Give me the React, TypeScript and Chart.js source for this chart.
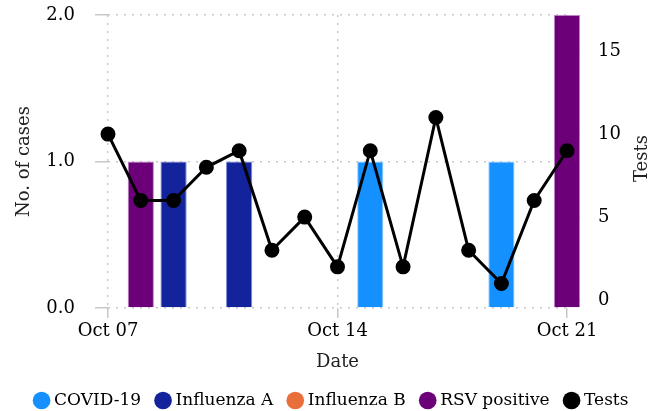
import React, { useEffect, useRef } from "react";
import { Chart, registerables } from "chart.js";

Chart.register(...registerables);

const dates = ["Oct 07","Oct 08","Oct 09","Oct 10","Oct 11","Oct 12","Oct 13","Oct 14","Oct 15","Oct 16","Oct 17","Oct 18","Oct 19","Oct 20","Oct 21"];
const covid = [0,0,0,0,0,0,0,0,1,0,0,0,1,0,0];
const fluA = [0,0,1,0,1,0,0,0,0,0,0,0,0,0,0];
const fluB = [0,0,0,0,0,0,0,0,0,0,0,0,0,0,0];
const rsv = [0,1,0,0,0,0,0,0,0,0,0,0,0,0,2];
const tests = [10,6,6,8,9,3,5,2,9,2,11,3,1,6,9];
const xTickIdx = [0,7,14];
const leftTicks = [0,1,2];
const rightTicks = [0,5,10,15];
const legendOrder = ["COVID-19", "Influenza A", "Influenza B", "RSV positive", "Tests"];

const FONT = "'DejaVu Serif', serif";

const rightTitle = {
  id: "rightTitle",
  afterDraw(chart: any) {
    const ctx = chart.ctx;
    const a = chart.chartArea;
    ctx.save();
    ctx.translate(642, (a.top + a.bottom) / 2 - 3);
    ctx.rotate(-Math.PI / 2);
    ctx.fillStyle = "#222";
    ctx.font = `18px ${FONT}`;
    ctx.textAlign = "center";
    ctx.textBaseline = "middle";
    ctx.fillText("Tests", 0, 0);
    ctx.restore();
  },
};

export default function App() {
  const ref = useRef<HTMLCanvasElement>(null);
  useEffect(() => {
    document.body.style.margin = "0";
    const grid = { color: "#c8c8c8", lineWidth: 1.5, tickLength: 13, offset: false } as any;
    const border = { display: false, dash: [2, 6] } as any;
    const chart = new Chart(ref.current!, {
      type: "bar",
      plugins: [rightTitle],
      data: {
        labels: dates,
        datasets: [
          { type: "line", label: "Tests", data: tests, yAxisID: "y1", borderColor: "#000", backgroundColor: "#000", borderWidth: 3, pointRadius: 6, pointBackgroundColor: "#000", order: 0 } as any,
          { label: "COVID-19", data: covid, backgroundColor: "#1590ff", borderColor: "rgba(120,190,255,0.8)", borderWidth: 1, yAxisID: "y", order: 1, clip: false },
          { label: "Influenza A", data: fluA, backgroundColor: "#12239b", borderColor: "rgba(90,110,200,0.8)", borderWidth: 1, yAxisID: "y", order: 1, clip: false },
          { label: "Influenza B", data: fluB, backgroundColor: "#e86f3a", borderColor: "#e86f3a", borderWidth: 1, yAxisID: "y", order: 1, clip: false },
          { label: "RSV positive", data: rsv, backgroundColor: "#6b0079", borderColor: "rgba(170,100,180,0.8)", borderWidth: 1, yAxisID: "y", order: 1, clip: false },
        ],
      },
      options: {
        animation: false,
        responsive: false,
        maintainAspectRatio: false,
        layout: { padding: { left: 15, right: 0, top: 15, bottom: -8 }, autoPadding: false } as any,
        datasets: { bar: { categoryPercentage: 0.8, barPercentage: 1 } },
        plugins: {
          tooltip: { enabled: false },
          legend: {
            position: "bottom",
            align: "center",
            labels: {
              usePointStyle: true,
              pointStyle: "circle",
              boxWidth: 8,
              boxHeight: 12.5,
              padding: 18,
              color: "#000",
              font: { family: FONT, size: 17 },
              generateLabels: (c: any) => {
                const items = Chart.defaults.plugins.legend.labels.generateLabels(c);
                items.forEach((it: any) => { it.lineWidth = 0; it.strokeStyle = "rgba(0,0,0,0)"; });
                return items.sort((a: any, b: any) => legendOrder.indexOf(a.text) - legendOrder.indexOf(b.text));
              },
            },
          },
        },
        scales: {
          x: {
            stacked: true,
            offset: false,
            grid: { ...grid, tickLength: 10 },
            border,
            afterBuildTicks: (s: any) => { s.ticks = xTickIdx.map((v) => ({ value: v })); },
            afterFit: (s: any) => { s.height = 66; },
            ticks: { autoSkip: false, maxRotation: 0, padding: 3, color: "#000", font: { family: FONT, size: 18 }, callback: (v: any) => dates[v] },
            title: { display: true, text: "Date", color: "#222", font: { family: FONT, size: 18 }, padding: { top: 0, bottom: 1 } },
          },
          y: {
            stacked: true,
            position: "left",
            min: 0,
            max: 2,
            grid: { ...grid },
            border,
            afterBuildTicks: (s: any) => { s.ticks = leftTicks.map((v) => ({ value: v })); },
            afterFit: (s: any) => { s.width = 93; s.paddingTop = 0; s.paddingBottom = 0; },
            ticks: { padding: 20, color: "#000", font: { family: FONT, size: 18 }, callback: (v: any) => Number(v).toFixed(1) },
            title: { display: true, text: "No. of cases", color: "#222", font: { family: FONT, size: 18 }, padding: { top: -1, bottom: 11 } },
          },
          y1: {
            position: "right",
            min: -0.48,
            max: 17.18,
            grid: { ...grid, drawOnChartArea: false },
            border,
            afterBuildTicks: (s: any) => { s.ticks = rightTicks.map((v) => ({ value: v })); },
            afterFit: (s: any) => { s.width = 84; s.paddingTop = 0; s.paddingBottom = 0; },
            ticks: { padding: 18, color: "#000", font: { family: FONT, size: 18 } },
            title: { display: false },
          },
        },
      },
    });
    return () => chart.destroy();
  }, []);
  return (
    <div style={{ width: 651, height: 411 }}>
      <canvas ref={ref} width={651} height={411} style={{ display: "block" }} />
    </div>
  );
}
